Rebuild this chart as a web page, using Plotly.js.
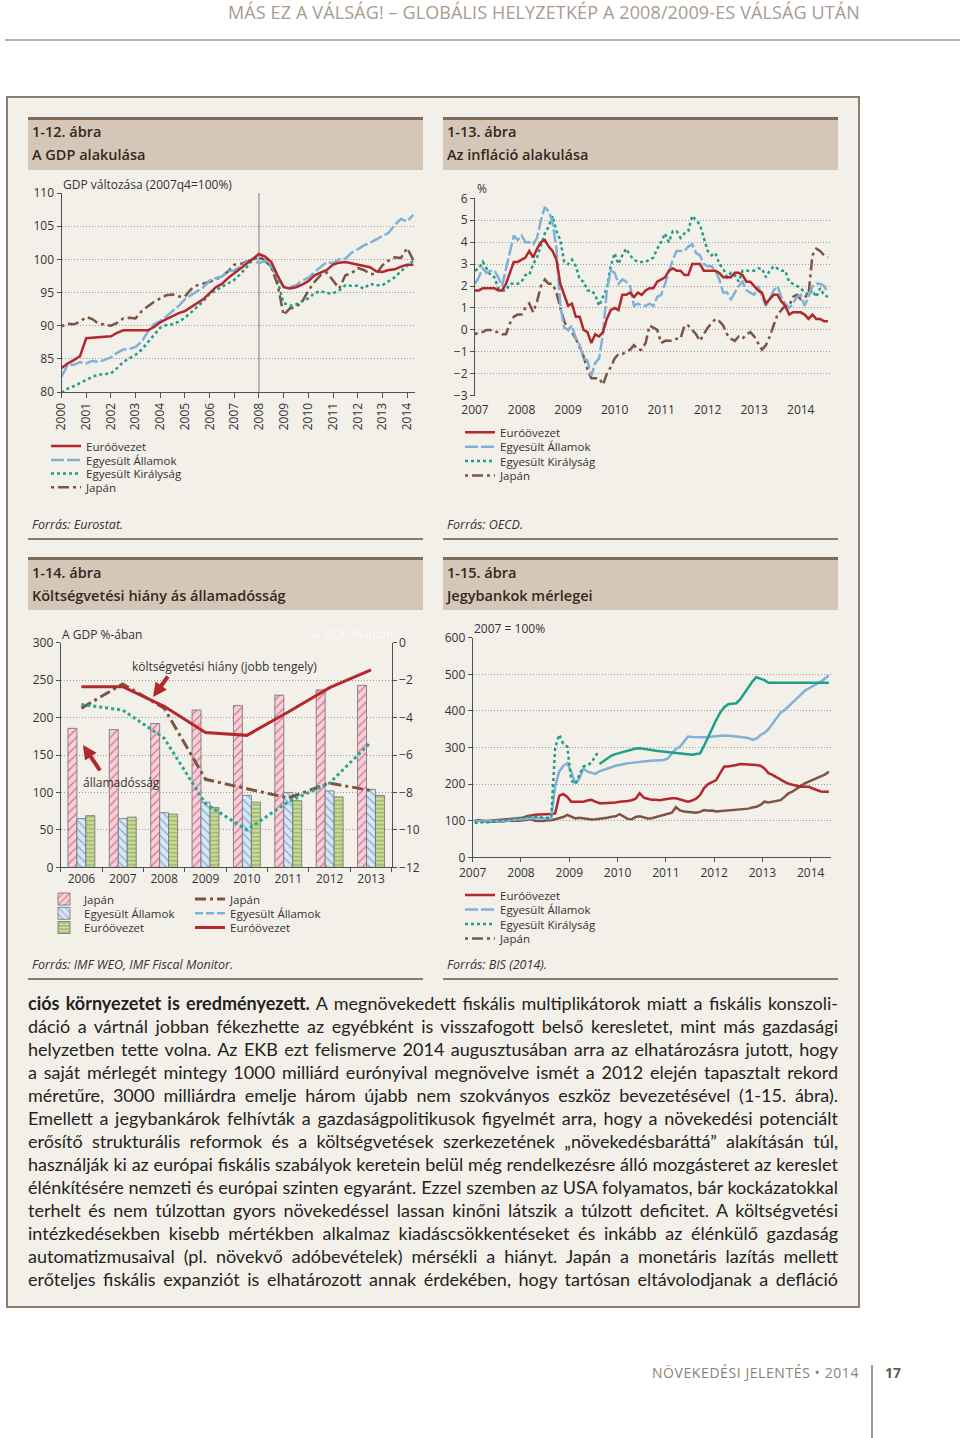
<!DOCTYPE html>
<html lang="hu">
<head>
<meta charset="utf-8">
<title>Más ez a válság! – Globális helyzetkép</title>
<script src="https://cdn.plot.ly/plotly-3.0.1.min.js"></script>
<style>
  html, body { margin:0; padding:0; background:#ffffff; }
  #page { position:relative; width:960px; height:1438px; overflow:hidden; font-family:'Open Sans','DejaVu Sans',sans-serif; color:#2b2b2b; }
  .a { position:absolute; white-space:nowrap; }
  #chart { position:absolute; left:0; top:0; width:960px; height:1438px; z-index:5; }
  .tbar { position:absolute; box-sizing:border-box; height:53px; width:395px; border-top:3px solid #7e6b58; background:#d5c7b7; }
  .ttl { position:absolute; font-size:14.5px; font-weight:600; color:#33291f; line-height:20px; white-space:nowrap; }
  .src { position:absolute; font-size:12.5px; font-style:italic; color:#333; line-height:18px; white-space:nowrap; }
  .rule { position:absolute; height:2px; width:395px; background:#8d7a67; }
  .pl { position:absolute; left:28px; width:810px; height:23px; line-height:23px; font-family:'Lato','Open Sans',sans-serif; font-size:18px; color:#231f20; white-space:pre; }
  .pl span.w { display:inline-block; white-space:pre; }
</style>
</head>
<body>
<div id="page">
  <div id="hdr" class="a" style="right:100px; top:1px; font-size:18px; line-height:22px; color:#a99b8d; display:inline-block;">MÁS EZ A VÁLSÁG! – GLOBÁLIS HELYZETKÉP A 2008/2009-ES VÁLSÁG UTÁN</div>
  <div class="a" style="left:5px; top:39px; width:955px; height:2px; background:#bab3ab;"></div>

  <div class="a" style="left:6px; top:96px; width:854px; height:1212px; box-sizing:border-box; border:2px solid #8d7d6d; background:#f3efe9;"></div>

  <div class="tbar" style="left:28px; top:117px;"></div>
  <div class="tbar" style="left:443px; top:117px;"></div>
  <div class="tbar" style="left:28px; top:557px;"></div>
  <div class="tbar" style="left:443px; top:557px;"></div>

  <div class="ttl" style="left:32px; top:122px;">1-12. ábra</div>
  <div class="ttl" style="left:32px; top:145px;">A GDP alakulása</div>
  <div class="ttl" style="left:447px; top:122px;">1-13. ábra</div>
  <div class="ttl" style="left:447px; top:145px;">Az infláció alakulása</div>
  <div class="ttl" style="left:32px; top:563px;">1-14. ábra</div>
  <div class="ttl" style="left:32px; top:586px;">Költségvetési hiány ás államadósság</div>
  <div class="ttl" style="left:447px; top:563px;">1-15. ábra</div>
  <div class="ttl" style="left:447px; top:586px;">Jegybankok mérlegei</div>

  <div class="src" style="left:32px; top:516px;">Forrás: Eurostat.</div>
  <div class="src" style="left:447px; top:516px;">Forrás: OECD.</div>
  <div class="rule" style="left:28px; top:538px;"></div>
  <div class="rule" style="left:443px; top:538px;"></div>
  <div class="src" style="left:32px; top:956px;">Forrás: IMF WEO, IMF Fiscal Monitor.</div>
  <div class="src" style="left:447px; top:956px;">Forrás: BIS (2014).</div>
  <div class="rule" style="left:28px; top:978px;"></div>
  <div class="rule" style="left:443px; top:978px;"></div>

  <div id="para"></div>

  <div id="ftr" class="a" style="right:101px; top:1363px; font-size:14px; line-height:20px; color:#8e8173; display:inline-block;">NÖVEKEDÉSI JELENTÉS • 2014</div>
  <div class="a" style="left:871px; top:1365px; width:1.5px; height:73px; background:#a59888;"></div>
  <div class="a" style="left:885px; top:1363px; font-size:14px; line-height:20px; font-weight:700; color:#6a5a4a;">17</div>

  <div id="chart"></div>
</div>

<script>
// ================= DATA =================
const seriesNames = { euro: 'Euróövezet', us: 'Egyesült Államok', uk: 'Egyesült Királyság', jp: 'Japán' };

// 1-12: GDP (2007q4 = 100), quarterly 2000q1 – 2014q2
const gdpTickYears = [2000,2001,2002,2003,2004,2005,2006,2007,2008,2009,2010,2011,2012,2013,2014];
const gdpMarkerYear = 2008;
const gdpEuro = [83.6,84.3,84.8,85.4, 88.1,88.2,88.3,88.4, 88.4,88.9,89.3,89.3, 89.3,89.3,89.3,89.8,
  90.5,91.0,91.5,91.9, 92.2,92.8,93.4,94.0, 94.9,95.8,96.3,97.2, 97.9,98.6,99.3,100.0,
  100.8,100.4,99.6,97.6, 95.8,95.6,95.8,96.2, 96.7,97.6,98.0,98.4, 99.2,99.5,99.6,99.4,
  99.2,98.9,98.8,98.2, 98.1,98.4,98.5,98.9, 99.2,99.2];
const gdpUS = [82.3,84.1,84.1,84.5, 84.3,84.7,84.5,84.8, 85.2,85.9,86.4,86.5, 86.8,87.6,89.1,90.2,
  90.7,91.4,92.2,93.0, 94.0,94.6,95.3,95.8, 96.8,97.2,97.4,98.2, 98.3,98.9,99.6,100.0,
  99.4,99.8,99.2,97.3, 95.9,95.8,96.1,96.8, 97.2,98.1,98.8,99.6, 99.4,100.0,100.1,101.0,
  101.5,102.1,102.5,103.0, 103.4,104.0,105.2,106.1, 105.7,106.7];
const gdpUK = [79.9,80.5,80.9,81.3, 81.8,82.3,82.6,82.7, 82.8,83.6,84.5,85.1, 85.6,86.4,87.5,88.6,
  89.7,90.1,90.2,90.6, 91.2,92.0,92.8,93.7, 94.8,95.3,95.8,96.3, 96.9,97.8,98.8,100.0,
  100.3,99.7,98.9,96.8, 93.4,93.0,93.2,93.7, 94.1,94.9,95.2,94.9, 94.9,95.3,96.1,96.0,
  96.0,95.6,96.3,96.1, 96.1,96.7,97.3,98.2, 99.0,99.8];
const gdpJapan = [89.9,90.3,90.2,90.6, 91.3,91.0,90.3,90.1, 90.0,90.4,91.1,91.2, 91.1,92.2,92.9,93.6,
  94.1,94.6,94.7,94.4, 94.4,95.5,96.1,96.3, 96.6,97.0,97.4,98.2, 99.2,99.3,99.6,100.0,
  100.4,99.8,98.8,96.2, 91.6,92.6,92.8,93.6, 95.3,96.6,97.6,98.0, 96.8,95.6,97.6,97.9,
  98.7,98.4,97.8,97.8, 99.1,99.8,100.3,100.2, 101.7,99.9];

// 1-13: inflation (%), monthly Jan 2007 – Aug 2014
const infTickYears = [2007,2008,2009,2010,2011,2012,2013,2014];
const infEuro = [1.8,1.8,1.9,1.9,1.9,1.9,1.8,1.8,2.1,2.6,3.1,3.1,
  3.2,3.3,3.6,3.3,3.7,4.0,4.1,3.8,3.6,3.2,2.1,1.6,
  1.1,1.2,0.6,0.6,0.0,-0.1,-0.6,-0.2,-0.3,-0.1,0.5,0.9,
  1.0,0.9,1.6,1.6,1.7,1.5,1.7,1.6,1.8,1.9,1.9,2.2,
  2.3,2.4,2.7,2.8,2.7,2.7,2.5,2.5,3.0,3.0,3.0,2.7,
  2.7,2.7,2.7,2.6,2.4,2.4,2.4,2.6,2.6,2.5,2.2,2.2,
  2.0,1.8,1.7,1.2,1.4,1.6,1.6,1.3,1.1,0.7,0.8,0.8,
  0.8,0.7,0.5,0.7,0.5,0.5,0.4,0.4];
const infUS = [2.1,2.4,2.8,2.6,2.7,2.7,2.4,2.0,2.8,3.5,4.3,4.1,
  4.3,4.0,4.0,3.9,4.2,5.0,5.6,5.4,4.9,3.7,1.1,0.1,
  0.0,0.2,-0.4,-0.7,-1.3,-1.4,-2.1,-1.5,-1.3,-0.2,1.8,2.7,
  2.6,2.1,2.3,2.2,2.0,1.1,1.2,1.1,1.1,1.2,1.1,1.5,
  1.6,2.1,2.7,3.2,3.6,3.6,3.6,3.8,3.9,3.5,3.4,3.0,
  2.9,2.9,2.7,2.3,1.7,1.7,1.4,1.7,2.0,2.2,1.8,1.7,
  1.6,2.0,1.5,1.1,1.4,1.8,2.0,1.5,1.2,1.0,1.2,1.5,
  1.6,1.1,1.5,2.0,2.1,2.1,2.0,1.7];
const infUK = [2.7,2.8,3.1,2.8,2.5,2.4,1.9,1.8,1.8,2.1,2.1,2.1,
  2.2,2.5,2.5,3.0,3.3,3.8,4.4,4.7,5.2,4.5,4.1,3.1,
  3.0,3.2,2.9,2.3,2.2,1.8,1.8,1.6,1.1,1.5,1.9,2.9,
  3.5,3.0,3.4,3.7,3.4,3.2,3.1,3.1,3.1,3.2,3.3,3.7,
  4.0,4.4,4.0,4.5,4.5,4.2,4.4,4.5,5.2,5.0,4.8,4.2,
  3.6,3.4,3.5,3.0,2.8,2.4,2.6,2.5,2.2,2.7,2.7,2.7,
  2.7,2.8,2.8,2.4,2.7,2.9,2.8,2.7,2.7,2.2,2.1,2.0,
  1.9,1.7,1.6,1.8,1.5,1.9,1.6,1.5];
const infJapan = [-0.2,-0.1,-0.1,0.0,0.0,-0.1,-0.1,-0.2,-0.2,0.3,0.6,0.7,
  0.7,1.0,1.2,0.8,1.3,2.0,2.3,2.1,2.1,1.7,1.0,0.4,
  0.0,-0.1,-0.4,-0.8,-1.2,-1.8,-2.2,-2.2,-2.2,-2.5,-2.0,-1.7,
  -1.3,-1.1,-1.1,-1.0,-0.9,-0.7,-0.9,-0.9,-0.6,0.2,0.1,0.0,
  -0.6,-0.5,-0.5,-0.5,-0.4,-0.4,0.2,0.2,0.0,-0.2,-0.5,-0.2,
  0.1,0.3,0.5,0.4,0.2,-0.2,-0.4,-0.5,-0.3,-0.4,-0.2,-0.1,
  -0.3,-0.6,-0.9,-0.7,-0.3,0.2,0.7,0.9,1.1,1.1,1.5,1.6,
  1.4,1.5,1.6,3.4,3.7,3.6,3.4,3.3];

// 1-14: debt (% of GDP, left axis) and budget balance (% of GDP, right axis)
const debtYears = ['2006','2007','2008','2009','2010','2011','2012','2013'];
const debtJapan = [185.6,184.0,192.0,210.0,216.0,230.0,237.0,243.0];
const debtUS    = [65.0,65.0,73.0,87.0,96.0,100.0,102.0,104.0];
const debtEuro  = [69.0,67.0,71.0,80.0,87.0,89.0,94.0,96.0];
const defJapan  = [-3.5,-2.2,-3.5,-7.3,-7.8,-8.3,-7.5,-7.9];
const defUS     = [-3.3,-3.6,-5.1,-8.6,-10.0,-8.5,-7.5,-5.3];
const defEuro   = [-2.35,-2.35,-3.4,-4.8,-4.95,-3.7,-2.4,-1.45];

// 1-15: central bank balance sheets (2007 = 100%), monthly Jan 2007 – May 2014
const cbTickYears = [2007,2008,2009,2010,2011,2012,2013,2014];
const cbEuro = [100,101,100,99,100,102,101,102,103,104,105,106,
  108,112,115,116,117,117,117,118,120,168,173,165,
  152,152,153,152,155,157,152,148,148,148,148,150,
  152,152,154,156,160,175,163,160,157,157,156,158,
  160,161,161,158,154,152,155,160,170,189,200,206,
  211,230,248,248,249,252,255,255,254,253,252,250,
  243,230,225,218,211,206,201,198,196,193,193,193,
  188,184,180,179,179];
const cbUS = [100,99,98,98,99,99,100,101,100,102,103,104,
  105,106,107,108,108,107,106,106,195,234,250,257,
  234,202,215,243,234,230,228,235,239,244,248,250,
  252,255,257,258,260,261,262,263,264,265,266,266,
  270,284,296,302,316,330,329,328,328,328,329,330,
  331,333,333,332,330,330,329,328,326,321,324,334,
  340,350,366,380,395,402,412,424,434,444,455,462,
  468,474,480,488,497];
// UK: dotted segment Jan 2007 – Aug 2009, solid segment Aug 2009 – May 2014
const cbUKEarly = [95,93,96,95,97,98,100,101,103,104,106,108,
  108,110,111,111,110,108,107,108,300,335,310,302,
  210,200,225,248,252,258,278,289];
const cbUKLate = [255,262,270,278,282,
  285,290,293,295,297,298,297,295,293,291,290,288,
  287,286,285,284,282,281,280,282,284,305,330,352,
  375,395,410,418,420,421,432,448,465,480,492,489,
  484,477,477,477,477,477,477,477,477,477,477,477,
  477,477,477,477,477];
const cbJapan = [100,102,98,97,96,97,99,98,100,101,100,100,
  102,104,104,100,99,99,101,101,104,107,110,116,
  110,106,108,106,104,103,104,105,106,108,111,112,
  118,112,105,104,110,112,108,106,107,110,112,116,
  118,122,137,128,125,124,124,122,124,129,127,128,
  125,126,127,129,129,130,131,131,133,136,138,143,
  152,150,152,153,156,165,175,180,188,196,202,207,
  212,216,220,226,234];

// ================= HELPERS =================
const W = 960, H = 1438;
const px = v => v / W;
const py = v => 1 - v / H;

const gdpX = gdpEuro.map((_, i) => 2000 + i / 4);
const infX = infEuro.map((_, i) => 2007 + i / 12);
const cbX = cbEuro.map((_, i) => 2007 + (i + 0.5) / 12);
const cbXEarly = cbUKEarly.map((_, i) => cbX[i]);
const cbXLate = cbUKLate.map((_, i) => cbX[cbUKEarly.length - 1 + i]);

const C = { euro:'#b3282d', us:'#80b1d9', uk:'#1f9f8b', jp:'#7b5540' };
const DASH = { us:'13px,3px', uk:'3px,3px', jp:'3px,4px,11px,4px' };
const axc = '#505050', gc = '#9a9a9a';

function ln(xa, ya, x, y, color, width, dash, name, legend, show) {
  return { type:'scatter', mode:'lines', x:x, y:y, xaxis:xa, yaxis:ya, name:name,
    line:{ color:color, width:width, dash:dash || 'solid' }, legend:legend,
    showlegend: show !== false, hoverinfo:'skip' };
}

const traces = [];
// 1-12
traces.push(ln('x','y', gdpX, gdpUK, C.uk, 2.5, DASH.uk, seriesNames.uk, 'legend3'));
traces.push(ln('x','y', gdpX, gdpJapan, C.jp, 2.5, DASH.jp, seriesNames.jp, 'legend4'));
traces.push(ln('x','y', gdpX, gdpUS, C.us, 2.5, DASH.us, seriesNames.us, 'legend2'));
traces.push(ln('x','y', gdpX, gdpEuro, C.euro, 2.5, 'solid', seriesNames.euro, 'legend'));
// 1-13
traces.push(ln('x2','y2', infX, infJapan, C.jp, 2.5, DASH.jp, seriesNames.jp, 'legend8'));
traces.push(ln('x2','y2', infX, infUK, C.uk, 2.5, DASH.uk, seriesNames.uk, 'legend7'));
traces.push(ln('x2','y2', infX, infUS, C.us, 2.5, DASH.us, seriesNames.us, 'legend6'));
traces.push(ln('x2','y2', infX, infEuro, C.euro, 2.5, 'solid', seriesNames.euro, 'legend5'));
// 1-14 bars
traces.push({ type:'bar', x:debtYears, y:debtJapan, xaxis:'x3', yaxis:'y3', name:seriesNames.jp, legend:'legend9', hoverinfo:'skip',
  marker:{ color:'#f8cfda', line:{color:'#6e6e6e', width:0.8},
    pattern:{ shape:'/', fgcolor:'#d8738d', bgcolor:'#f8d0db', size:6, solidity:0.22, fillmode:'replace' } } });
traces.push({ type:'bar', x:debtYears, y:debtUS, xaxis:'x3', yaxis:'y3', name:seriesNames.us, legend:'legend10', hoverinfo:'skip',
  marker:{ color:'#d4e6f5', line:{color:'#6e6e6e', width:0.8},
    pattern:{ shape:'\\', fgcolor:'#86acd0', bgcolor:'#d6e7f5', size:6, solidity:0.22, fillmode:'replace' } } });
traces.push({ type:'bar', x:debtYears, y:debtEuro, xaxis:'x3', yaxis:'y3', name:seriesNames.euro, legend:'legend11', hoverinfo:'skip',
  marker:{ color:'#c9dc9c', line:{color:'#6e6e6e', width:0.8},
    pattern:{ shape:'-', fgcolor:'#8daa56', bgcolor:'#cbdd9f', size:4, solidity:0.3, fillmode:'replace' } } });
// 1-14 lines (right axis)
traces.push(ln('x3','y4', debtYears, defJapan, C.jp, 3, '11px,4px,3px,4px', seriesNames.jp, 'legend12'));
traces.push(ln('x3','y4', debtYears, defUS, '#27a595', 3, '3px,3px', seriesNames.us, 'legend13', false));
traces.push(ln('x3','y4', [null], [null], C.us, 2.5, '8px,3px', seriesNames.us, 'legend13'));
traces.push(ln('x3','y4', debtYears, defEuro, C.euro, 3, 'solid', seriesNames.euro, 'legend14'));
// 1-15
traces.push(ln('x4','y5', cbX, cbJapan, '#7a5643', 2.5, 'solid', seriesNames.jp, 'legend18', false));
traces.push(ln('x4','y5', [null], [null], '#7a5643', 2.5, DASH.jp, seriesNames.jp, 'legend18'));
traces.push(ln('x4','y5', cbX, cbEuro, C.euro, 2.5, 'solid', seriesNames.euro, 'legend15'));
traces.push(ln('x4','y5', cbX, cbUS, C.us, 2.5, 'solid', seriesNames.us, 'legend16', false));
traces.push(ln('x4','y5', [null], [null], C.us, 2.5, DASH.us, seriesNames.us, 'legend16'));
traces.push(ln('x4','y5', cbXEarly, cbUKEarly, C.uk, 2.5, DASH.uk, seriesNames.uk, 'legend17'));
traces.push(ln('x4','y5', cbXLate, cbUKLate, C.uk, 2.5, 'solid', seriesNames.uk, 'legend17', false));

const tickFont = { size:12, color:'#333' };
function yAx(extra) {
  return Object.assign({ ticks:'outside', ticklen:4, tickcolor:axc, showline:true, linecolor:axc, linewidth:1,
    showgrid:true, gridcolor:gc, griddash:'1px,2px', gridwidth:1, zeroline:false, tickfont:tickFont, fixedrange:true }, extra);
}
function xAx(extra) {
  return Object.assign({ ticks:'outside', ticklen:4, tickcolor:axc, showline:true, linecolor:axc, linewidth:1,
    showgrid:false, zeroline:false, tickfont:tickFont, fixedrange:true, tickmode:'array' }, extra);
}

const infD0 = py(395.7), infD1 = py(198.3);
const infZero = infD0 + (0 - (-3)) / 9 * (infD1 - infD0);

function lg(textX, cy) {
  return { x:px(textX - 40), y:py(cy), xanchor:'left', yanchor:'middle', bgcolor:'rgba(0,0,0,0)', borderwidth:0,
    font:{ size:11.5, color:'#333' }, itemclick:false, itemdoubleclick:false, orientation:'v', tracegroupgap:0, itemwidth:30 };
}

const layout = {
  width:W, height:H, margin:{l:0,r:0,t:0,b:0,pad:0}, autosize:false,
  paper_bgcolor:'rgba(0,0,0,0)', plot_bgcolor:'rgba(0,0,0,0)',
  font:{ family:"'Open Sans', 'DejaVu Sans', sans-serif", size:12, color:'#333' },
  hovermode:false, showlegend:true,
  barmode:'group', bargap:0.35, bargroupgap:0,

  xaxis: xAx({ domain:[px(61.5), px(415)], anchor:'y', range:[2000, 2014.32], tickvals:gdpTickYears,
    ticktext:gdpTickYears.map(String), tickangle:-90, ticklen:5 }),
  yaxis: yAx({ domain:[py(392), py(193)], anchor:'x', range:[80, 110], tick0:80, dtick:5 }),

  xaxis2: xAx({ domain:[px(475), px(831)], anchor:'y2', range:[2007, 2014.65], tickvals:infTickYears,
    ticktext:infTickYears.map(String), ticks:'', showline:false, ticklabelstandoff:5 }),
  yaxis2: yAx({ domain:[infD0, infD1], anchor:'x2', range:[-3, 6], tick0:-3, dtick:1 }),
  xaxis5: xAx({ domain:[px(475), px(831)], overlaying:'x2', anchor:'free', position:infZero, range:[2007, 2014.65],
    tickvals:infTickYears, showticklabels:false, linecolor:'#333', linewidth:1.5, tickcolor:'#333' }),

  xaxis3: { domain:[px(60.7), px(391.7)], anchor:'y3', type:'category', categoryorder:'array', categoryarray:debtYears,
    ticks:'outside', tickson:'boundaries', ticklen:4, tickcolor:axc, showline:true, linecolor:axc, showgrid:false,
    zeroline:false, tickfont:tickFont, fixedrange:true },
  yaxis3: yAx({ domain:[py(867.3), py(642.7)], anchor:'x3', range:[0, 300], tick0:0, dtick:50 }),
  yaxis4: yAx({ overlaying:'y3', anchor:'x3', side:'right', range:[-12, 0], tick0:-12, dtick:2, showgrid:false }),

  xaxis4: xAx({ domain:[px(472.7), px(831)], anchor:'y5', range:[2007, 2014.42], tickvals:cbTickYears, ticktext:cbTickYears.map(String) }),
  yaxis5: yAx({ domain:[py(857.3), py(637.7)], anchor:'x4', range:[0, 600], tick0:0, dtick:100 }),

  legend: lg(86, 446), legend2: lg(86, 460), legend3: lg(86, 473.5), legend4: lg(86, 487.3),
  legend5: lg(500, 432.3), legend6: lg(500, 446.7), legend7: lg(500, 461), legend8: lg(500, 475.5),
  legend9: lg(84, 899), legend10: lg(84, 913.3), legend11: lg(84, 927.5),
  legend12: lg(230, 899), legend13: lg(230, 913.3), legend14: lg(230, 927.5),
  legend15: lg(500, 895), legend16: lg(500, 909.4), legend17: lg(500, 924), legend18: lg(500, 938.4),

  shapes: [
    { type:'line', xref:'x', yref:'y domain', x0:gdpMarkerYear, x1:gdpMarkerYear, y0:0, y1:1,
      line:{ color:'#8f8f8f', width:1.2 }, layer:'below' }
  ],
  annotations: [
    { text:'GDP változása (2007q4=100%)', xref:'paper', yref:'paper', x:px(61), y:py(185), xanchor:'left', yanchor:'middle', showarrow:false, font:{size:12, color:'#333'} },
    { text:'%', xref:'paper', yref:'paper', x:px(475), y:py(189), xanchor:'left', yanchor:'middle', showarrow:false, font:{size:12, color:'#333'} },
    { text:'A GDP %-ában', xref:'paper', yref:'paper', x:px(60), y:py(634), xanchor:'left', yanchor:'middle', showarrow:false, font:{size:12, color:'#333'} },
    { text:'A GDP %-ában', xref:'paper', yref:'paper', x:px(311), y:py(634), xanchor:'left', yanchor:'middle', showarrow:false, font:{size:12, color:'rgba(255,255,255,0.75)'} },
    { text:'költségvetési hiány (jobb tengely)', xref:'paper', yref:'paper', x:px(130), y:py(666), xanchor:'left', yanchor:'middle', showarrow:false, font:{size:12, color:'#333'} },
    { text:'államadósság', xref:'paper', yref:'paper', x:px(81), y:py(782.5), xanchor:'left', yanchor:'middle', showarrow:false, font:{size:12, color:'#333'} },
    { text:'', xref:'paper', yref:'paper', x:px(153), y:py(697), ax:16, ay:-22, showarrow:true, arrowhead:2, arrowsize:0.7, arrowwidth:4, arrowcolor:'#b3282d' },
    { text:'', xref:'paper', yref:'paper', x:px(83), y:py(745), ax:18, ay:27, showarrow:true, arrowhead:2, arrowsize:0.7, arrowwidth:4, arrowcolor:'#b3282d' },
    { text:'2007 = 100%', xref:'paper', yref:'paper', x:px(472), y:py(629), xanchor:'left', yanchor:'middle', showarrow:false, font:{size:12, color:'#333'} }
  ]
};

Plotly.newPlot('chart', traces, layout, { staticPlot:true, displayModeBar:false, responsive:false });

// ================= PAGE TEXT =================
const paraLines = [
  ['ciós környezetet is eredményezett.', ' A megnövekedett fiskális multiplikátorok miatt a fiskális konszoli-'],
  ['', 'dáció a vártnál jobban fékezhette az egyébként is visszafogott belső keresletet, mint más gazdasági'],
  ['', 'helyzetben tette volna. Az EKB ezt felismerve 2014 augusztusában arra az elhatározásra jutott, hogy'],
  ['', 'a saját mérlegét mintegy 1000 milliárd eurónyival megnövelve ismét a 2012 elején tapasztalt rekord'],
  ['', 'méretűre, 3000 milliárdra emelje három újabb nem szokványos eszköz bevezetésével (1-15. ábra).'],
  ['', 'Emellett a jegybankárok felhívták a gazdaságpolitikusok figyelmét arra, hogy a növekedési potenciált'],
  ['', 'erősítő strukturális reformok és a költségvetések szerkezetének „növekedésbaráttá” alakításán túl,'],
  ['', 'használják ki az európai fiskális szabályok keretein belül még rendelkezésre álló mozgásteret az kereslet'],
  ['', 'élénkítésére nemzeti és európai szinten egyaránt. Ezzel szemben az USA folyamatos, bár kockázatokkal'],
  ['', 'terhelt és nem túlzottan gyors növekedéssel lassan kinőni látszik a túlzott deficitet. A költségvetési'],
  ['', 'intézkedésekben kisebb mértékben alkalmaz kiadáscsökkentéseket és inkább az élénkülő gazdaság'],
  ['', 'automatizmusaival (pl. növekvő adóbevételek) mérsékli a hiányt. Japán a monetáris lazítás mellett'],
  ['', 'erőteljes fiskális expanziót is elhatározott annak érdekében, hogy tartósan eltávolodjanak a defláció']
];
const para = document.getElementById('para');
const lineEls = [];
paraLines.forEach((pair, i) => {
  const d = document.createElement('div');
  d.className = 'pl';
  d.style.top = (1003 - 11.5 + 23 * i) + 'px';
  const w = document.createElement('span');
  w.className = 'w';
  if (pair[0]) { const b = document.createElement('b'); b.textContent = pair[0]; w.appendChild(b); }
  w.appendChild(document.createTextNode(pair[1]));
  d.appendChild(w);
  para.appendChild(d);
  lineEls.push(d);
});

function fitLine(el, target) {
  el.style.wordSpacing = '0px'; el.style.letterSpacing = '0px';
  const span = el.firstChild;
  const w = span.getBoundingClientRect().width;
  const txt = el.textContent;
  const spaces = (txt.match(/ /g) || []).length;
  const diff = target - w;
  if (diff >= 0) el.style.wordSpacing = (diff / Math.max(spaces, 1)) + 'px';
  else el.style.letterSpacing = (diff / txt.length) + 'px';
}
function fitLetter(el, target) {
  el.style.letterSpacing = '0px';
  const w = el.getBoundingClientRect().width;
  const n = el.textContent.length;
  el.style.letterSpacing = ((target - w) / n) + 'px';
}
function fitAll() {
  lineEls.forEach(el => fitLine(el, 810));
  fitLetter(document.getElementById('hdr'), 632);
  fitLetter(document.getElementById('ftr'), 207);
}
fitAll();
if (document.fonts && document.fonts.ready) document.fonts.ready.then(fitAll);
</script>
</body>
</html>
